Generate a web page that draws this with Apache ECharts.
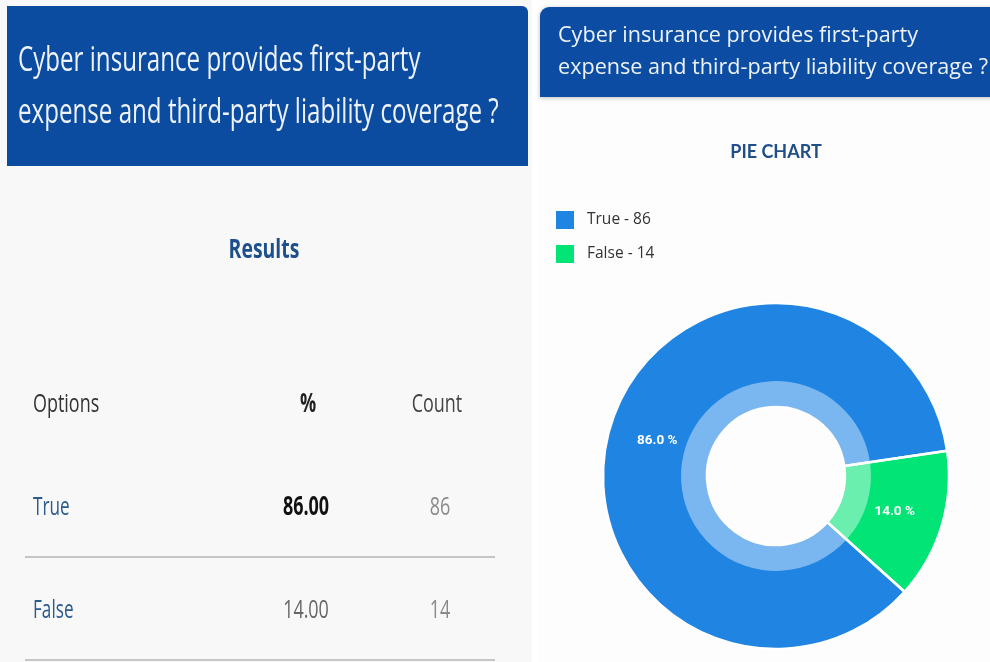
<!DOCTYPE html>
<html>
<head>
<meta charset="utf-8">
<script src="https://cdn.jsdelivr.net/npm/echarts@6/dist/echarts.min.js"></script>
<style>
  html, body { margin: 0; padding: 0; background: #ffffff; }
  #chart { width: 990px; height: 662px; }
</style>
</head>
<body>
<div id="chart"></div>
<script>
// Survey answers
const questionLines = ['Cyber insurance provides first-party', 'expense and third-party liability coverage ?'];
const optionNames = ['True', 'False'];
const optionCounts = [86, 14];
const tableHeaders = ['Options', '%', 'Count'];

const total = optionCounts.reduce((a, b) => a + b, 0);
const optionPercents = optionCounts.map(c => c / total * 100);

const BLUE = '#1f84e2', GREEN = '#02e475';
const BLUE_LIGHT = '#7ab6ef', GREEN_LIGHT = '#6aefae';

const chart = echarts.init(document.getElementById('chart'));

// narrow text: Open Sans squeezed horizontally
function condText(x, y, text, size, color, opts) {
  opts = opts || {};
  return {
    type: 'text', x: x, y: y, scaleX: opts.scaleX || 0.69,
    z: 10,
    style: {
      text: text,
      font: (opts.weight || 'normal') + ' ' + size + 'px "Open Sans", sans-serif',
      fill: color,
      align: opts.align || 'left',
      verticalAlign: 'middle'
    }
  };
}

const graphics = [
  // panel backgrounds
  { type: 'rect', shape: { x: 0, y: 0, width: 532, height: 662 }, style: { fill: '#f8f8f8' }, z: 0 },
  { type: 'rect', shape: { x: 538, y: 0, width: 452, height: 662 }, style: { fill: '#fdfdfd' }, z: 0 },
  // left banner
  { type: 'rect', shape: { x: 7, y: 6, width: 521, height: 160, r: [0, 6, 0, 0] }, style: { fill: '#0b4ba0' }, z: 1 },
  // right banner
  { type: 'rect', shape: { x: 540, y: 7, width: 460, height: 90, r: [9, 0, 0, 0] }, style: { fill: '#0c4da3', shadowBlur: 4, shadowColor: 'rgba(0,0,0,0.25)', shadowOffsetY: 1 }, z: 1 },
  condText(18, 61, questionLines[0], 34, '#eef3fa', { scaleX: 0.71 }),
  condText(18, 113, questionLines[1], 34, '#eef3fa', { scaleX: 0.71 }),
  {
    type: 'text', x: 558, y: 36, z: 10,
    style: { text: questionLines[0], font: '21.6px "Open Sans", sans-serif', fill: '#eef3fa', verticalAlign: 'middle' }
  },
  {
    type: 'text', x: 558, y: 68, z: 10,
    style: { text: questionLines[1], font: '21.6px "Open Sans", sans-serif', fill: '#eef3fa', verticalAlign: 'middle' }
  },
  {
    type: 'text', x: 776, y: 152, z: 10,
    style: { text: 'PIE CHART', font: 'bold 18px Lato, sans-serif', fill: '#1f4e8a', align: 'center', verticalAlign: 'middle' }
  },
  // Results table
  condText(264, 250, 'Results', 27, '#1d4f8c', { weight: 'bold', align: 'center', scaleX: 0.72 }),
  condText(33, 405, tableHeaders[0], 26, '#333333'),
  condText(308, 405, tableHeaders[1], 26, '#222222', { weight: 'bold', align: 'center' }),
  condText(437, 405, tableHeaders[2], 26, '#444444', { align: 'center' })
];

const rowY = [508, 611];
optionNames.forEach((name, i) => {
  const y = rowY[i];
  graphics.push(condText(33, y, name, 26, '#2b5b8e', { scaleX: 0.66 }));
  graphics.push(condText(306, y, optionPercents[i].toFixed(2), 26, i === 0 ? '#111111' : '#666666', { weight: i === 0 ? 'bold' : 'normal', align: 'center' }));
  graphics.push(condText(440, y, String(optionCounts[i]), 26, '#8a8a8a', { align: 'center' }));
  graphics.push({
    type: 'line', z: 5,
    shape: { x1: 25, y1: y + 49, x2: 495, y2: y + 49 },
    style: { stroke: '#c6c6c6', lineWidth: 2 }
  });
});

const pieData = optionNames.map((n, i) => ({ name: n, value: optionCounts[i] }));
const CENTER = [776, 476];
const START = 318;

chart.setOption({
  animation: false,
  color: [BLUE, GREEN],
  graphic: graphics,
  legend: {
    orient: 'vertical',
    left: 556, top: 211, padding: 0,
    icon: 'rect',
    itemWidth: 18, itemHeight: 18, itemGap: 16,
    data: optionNames,
    formatter: name => name + ' - ' + optionCounts[optionNames.indexOf(name)],
    textStyle: { fontFamily: '"Open Sans", sans-serif', fontSize: 15.5, color: '#333333', padding: [0, 0, 0, 8] }
  },
  series: [
    {
      // full ring
      type: 'pie', center: CENTER, radius: [69, 173], startAngle: START, clockwise: true,
      data: pieData,
      itemStyle: { borderWidth: 0 },
      label: { show: false }, labelLine: { show: false },
      emphasis: { disabled: true }, z: 2
    },
    {
      // lighter inner band
      type: 'pie', center: CENTER, radius: [69, 95], startAngle: START, clockwise: true,
      silent: true, legendHoverLink: false,
      data: pieData.map((d, i) => ({ name: d.name, value: d.value, itemStyle: { color: [BLUE_LIGHT, GREEN_LIGHT][i] } })),
      itemStyle: { borderWidth: 0 },
      label: { show: false }, labelLine: { show: false },
      emphasis: { disabled: true }, z: 3
    },
    {
      // slice separators and percentage labels
      type: 'pie', center: CENTER, radius: [69, 173], startAngle: START, clockwise: true,
      silent: true, legendHoverLink: false,
      data: pieData.map(d => ({ name: d.name, value: d.value, itemStyle: { color: 'rgba(0,0,0,0)' } })),
      itemStyle: { borderColor: '#ffffff', borderWidth: 2.5 },
      label: {
        position: 'inside',
        formatter: p => p.percent.toFixed(1) + ' %',
        color: '#ffffff',
        fontWeight: 'bold',
        fontSize: 13.5,
        fontFamily: 'Roboto, sans-serif'
      },
      labelLine: { show: false },
      emphasis: { disabled: true }, z: 4
    }
  ]
});
</script>
</body>
</html>
